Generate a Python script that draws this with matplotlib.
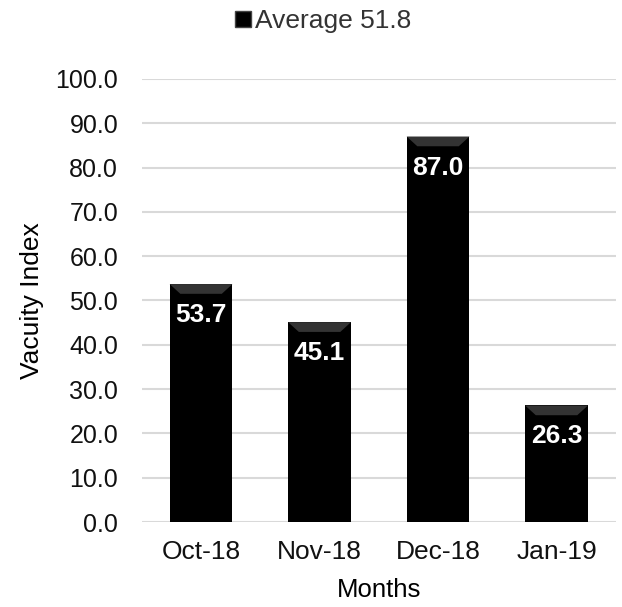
import numpy as np
import matplotlib
matplotlib.use('Agg')
import matplotlib.pyplot as plt
from matplotlib.patches import Polygon, Patch

plt.rcParams['font.family'] = ['Liberation Sans', 'DejaVu Sans']

# 数据
months = ['Oct-18', 'Nov-18', 'Dec-18', 'Jan-19']
vacuity = [53.7, 45.1, 87.0, 26.3]
average_label = 'Average 51.8'
y_ticks = np.arange(0, 101, 10)

fig = plt.figure(figsize=(6.22, 6.07), dpi=100)
ax = fig.add_axes([0.228, 0.140, 0.762, 0.730])

x = np.arange(len(months))
bar_w = 0.53
ax.bar(x, vacuity, width=bar_w, color='black', zorder=3)

# 顶部斜面效果
for xi, v in zip(x, vacuity):
    h = 2.2
    inset = 0.09
    top = Polygon([(xi - bar_w / 2, v), (xi + bar_w / 2, v),
                   (xi + bar_w / 2 - inset, v - h), (xi - bar_w / 2 + inset, v - h)],
                  closed=True, facecolor='#333333', edgecolor='none', zorder=4)
    ax.add_patch(top)
    ax.text(xi, v - 7.0, f'{v:.1f}', ha='center', va='center', color='white',
            fontsize=19, fontweight='bold', zorder=5)

ax.set_ylim(0, 100)
ax.set_xlim(-0.5, len(months) - 0.5)
ax.set_yticks(y_ticks)
ax.set_yticklabels([f'{t:.1f}' for t in y_ticks], fontsize=18, color='#111111')
ax.set_xticks(x)
ax.set_xticklabels(months, fontsize=19, color='#111111')
ax.tick_params(axis='y', length=0, pad=17)
ax.tick_params(axis='x', length=0, pad=13)
ax.yaxis.grid(True, color='#d9d9d9', linewidth=1.5, zorder=0)
ax.set_axisbelow(True)
for s in ax.spines.values():
    s.set_visible(False)

ax.set_ylabel('Vacuity Index', fontsize=19, labelpad=8)
ax.set_xlabel('Months', fontsize=18.5, labelpad=10)

fig.legend(handles=[Patch(facecolor='black', edgecolor='#444444')], labels=[average_label],
           loc='center', bbox_to_anchor=(0.52, 0.965), frameon=False, fontsize=19,
           handlelength=0.6, handleheight=0.6, handletextpad=0.15, labelcolor='#333333')

fig.savefig('out.png', dpi=100)
